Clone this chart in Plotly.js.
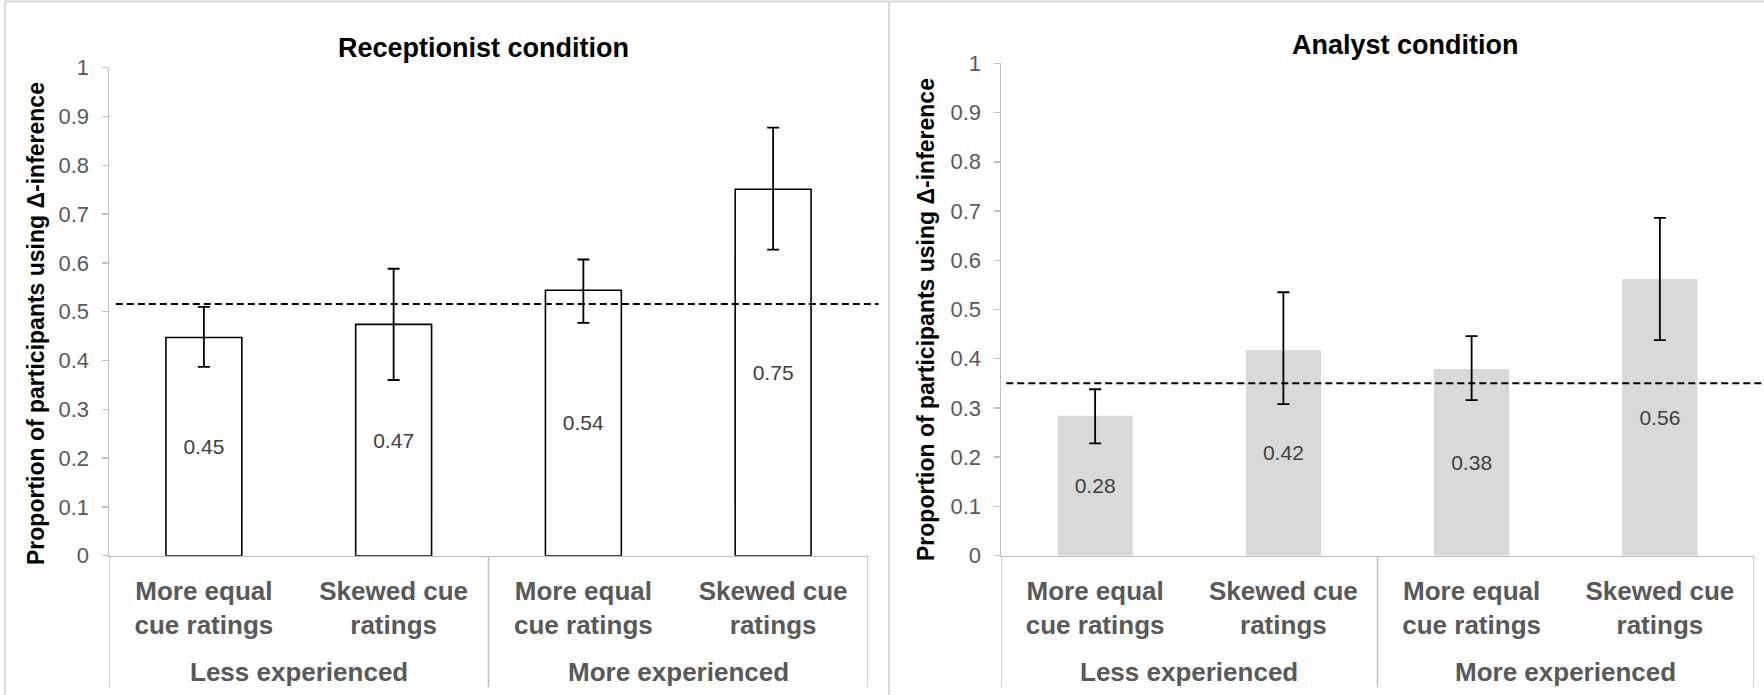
<!DOCTYPE html>
<html><head><meta charset="utf-8">
<script src="https://cdn.plot.ly/plotly-3.0.1.min.js"></script>
<style>html,body{margin:0;padding:0;background:#fff}#chart{width:1764px;height:695px}</style>
</head><body><div id="chart"></div>
<script>
// ---- data ----
const experienceGroups = ['Less experienced', 'Less experienced', 'More experienced', 'More experienced'];
const cueCategories = ['More equal<br>cue ratings', 'Skewed cue<br>ratings', 'More equal<br>cue ratings', 'Skewed cue<br>ratings'];
const receptionistValues = [0.447, 0.474, 0.544, 0.751];
const receptionistErrPlus = [0.063, 0.114, 0.063, 0.126];
const receptionistErrMinus = [0.060, 0.114, 0.067, 0.124];
const analystValues = [0.284, 0.418, 0.379, 0.562];
const analystErrPlus = [0.054, 0.117, 0.067, 0.124];
const analystErrMinus = [0.056, 0.110, 0.063, 0.124];
const baselineValues = [0.516, 0.35];
const panelTitles = ['Receptionist condition', 'Analyst condition'];
const yAxisTitle = 'Proportion of participants using Δ-inference';

// ---- layout helpers ----
const W = 1764, H = 695;
const FONT = 'Liberation Sans, Arial, sans-serif';
const px = v => v / W;
const py = v => 1 - v / H;
const AXIS_Y = 555.7;          // pixel row of the category axis
const DIVIDER_BOTTOM = 687;    // pixel row where group dividers end
const GROUP_LABEL_Y = 672;     // pixel row of the group label centres

const positions = cueCategories.map((_, i) => i);

// group centres and boundaries derived from the group array
const groupInfo = [];
experienceGroups.forEach((g, i) => {
  const last = groupInfo[groupInfo.length - 1];
  if (last && last.name === g) { last.end = i; }
  else { groupInfo.push({name: g, start: i, end: i}); }
});
const dividerPositions = [positions[0] - 0.5].concat(groupInfo.map(g => g.end + 0.5));

function barTrace(values, plus, minus, xa, ya, fill, outline) {
  return {
    type: 'bar',
    x: positions,
    y: values,
    xaxis: xa, yaxis: ya,
    marker: {color: fill, line: {color: outline || fill, width: outline ? 1.6 : 0}},
    texttemplate: '%{y:.2f}',
    textposition: 'inside',
    insidetextanchor: 'middle',
    textangle: 0,
    constraintext: 'none',
    textfont: {family: FONT, size: 21, color: '#404040'},
    error_y: {type: 'data', symmetric: false, array: plus, arrayminus: minus,
              color: '#000', thickness: 1.8, width: 6},
    hoverinfo: 'skip'
  };
}

const data = [
  barTrace(receptionistValues, receptionistErrPlus, receptionistErrMinus, 'x', 'y', '#ffffff', '#000000'),
  barTrace(analystValues, analystErrPlus, analystErrMinus, 'x2', 'y2', '#d9d9d9', null)
];

function xAxis(domain, anchor) {
  return {
    domain: domain, anchor: anchor, type: 'linear',
    range: [positions[0] - 0.5, positions[positions.length - 1] + 0.5],
    tickmode: 'array', tickvals: positions, ticktext: cueCategories,
    showline: true, linecolor: '#bfbfbf', linewidth: 1.5,
    ticks: '', ticklabelstandoff: 12, showgrid: false, zeroline: false,
    tickfont: {family: FONT, size: 26, color: '#595959', weight: 'bold'}
  };
}
function yAxis(domain, anchor) {
  return {
    domain: domain, anchor: anchor, range: [0, 1], tick0: 0, dtick: 0.1,
    showline: true, linecolor: '#bfbfbf', linewidth: 1.5,
    ticks: 'outside', ticklen: 6, tickwidth: 1.5, tickcolor: '#bfbfbf',
    ticklabelstandoff: 8,
    showgrid: false, zeroline: false,
    tickfont: {family: FONT, size: 22, color: '#595959'}
  };
}

const borderColor = '#d9d9d9';
const dividerColor = '#bfbfbf';
const shapes = [
  {type: 'line', xref: 'x domain', yref: 'y', x0: 0.009, x1: 1.014, y0: baselineValues[0], y1: baselineValues[0],
   line: {color: '#000', width: 2, dash: '7px,4px'}},
  {type: 'line', xref: 'x2 domain', yref: 'y2', x0: 0.007, x1: 1.02, y0: baselineValues[1], y1: baselineValues[1],
   line: {color: '#000', width: 2, dash: '7px,4px'}},
  {type: 'line', xref: 'paper', yref: 'paper', x0: px(5), x1: 1, y0: py(1.5), y1: py(1.5), line: {color: borderColor, width: 2}},
  {type: 'line', xref: 'paper', yref: 'paper', x0: px(5), x1: px(5), y0: py(1.5), y1: 0, line: {color: borderColor, width: 2}},
  {type: 'line', xref: 'paper', yref: 'paper', x0: px(889), x1: px(889), y0: py(1.5), y1: 0, line: {color: borderColor, width: 2}}
];
['x', 'x2'].forEach(xa => {
  dividerPositions.forEach(d => {
    shapes.push({type: 'line', xref: xa, yref: 'paper', x0: d, x1: d, y0: py(AXIS_Y), y1: py(DIVIDER_BOTTOM),
                 line: {color: dividerColor, width: 1.5}});
  });
});

const annotations = [
  {text: '<b>' + panelTitles[0] + '</b>', xref: 'paper', yref: 'paper', x: px(483), y: py(48),
   showarrow: false, xanchor: 'center', yanchor: 'middle', font: {family: FONT, size: 27, color: '#000'}},
  {text: '<b>' + panelTitles[1] + '</b>', xref: 'paper', yref: 'paper', x: px(1405), y: py(45),
   showarrow: false, xanchor: 'center', yanchor: 'middle', font: {family: FONT, size: 27, color: '#000'}},
  {text: '<b>' + yAxisTitle + '</b>', xref: 'paper', yref: 'paper', x: px(36), y: py(324),
   showarrow: false, textangle: -90, xanchor: 'center', yanchor: 'middle', font: {family: FONT, size: 23, color: '#000'}},
  {text: '<b>' + yAxisTitle + '</b>', xref: 'paper', yref: 'paper', x: px(926), y: py(320),
   showarrow: false, textangle: -90, xanchor: 'center', yanchor: 'middle', font: {family: FONT, size: 23, color: '#000'}}
];
['x', 'x2'].forEach(xa => {
  groupInfo.forEach(g => {
    annotations.push({text: '<b>' + g.name + '</b>', xref: xa, yref: 'paper', x: (g.start + g.end) / 2,
                      y: py(GROUP_LABEL_Y), showarrow: false, xanchor: 'center', yanchor: 'middle',
                      font: {family: FONT, size: 26, color: '#595959'}});
  });
});

const layout = {
  width: W, height: H,
  margin: {l: 0, r: 0, t: 0, b: 0},
  paper_bgcolor: '#ffffff', plot_bgcolor: 'rgba(0,0,0,0)',
  showlegend: false, bargap: 0.6,
  font: {family: FONT},
  xaxis: xAxis([px(109), px(868)], 'y'),
  yaxis: yAxis([py(AXIS_Y), py(67.7)], 'x'),
  xaxis2: xAxis([px(1001), px(1754)], 'y2'),
  yaxis2: yAxis([py(AXIS_Y), py(63.3)], 'x2'),
  shapes: shapes,
  annotations: annotations
};

Plotly.newPlot('chart', data, layout, {displayModeBar: false, staticPlot: true});
</script>
</body></html>
